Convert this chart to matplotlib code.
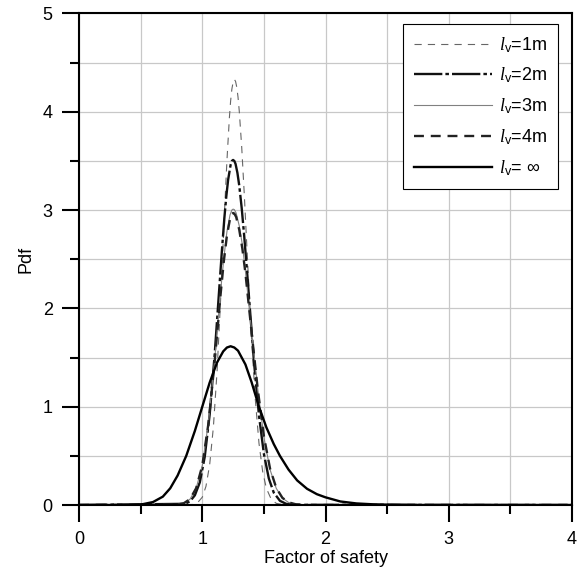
import matplotlib.pyplot as plt
from matplotlib.ticker import MultipleLocator

plt.rcParams['font.family'] = ['Liberation Sans', 'DejaVu Sans']
plt.rcParams['mathtext.fontset'] = 'custom'
plt.rcParams['mathtext.rm'] = 'Liberation Sans'
plt.rcParams['mathtext.it'] = 'Liberation Serif:italic'

# l_v = 1m
x1 = [0.0, 0.92, 0.96, 1.00, 1.03, 1.06, 1.09, 1.12, 1.15, 1.18, 1.20, 1.22, 1.23, 1.24, 1.25, 1.26,
      1.27, 1.28, 1.29, 1.30, 1.32, 1.34, 1.37, 1.40, 1.43, 1.46, 1.49, 1.52, 1.56, 1.60, 1.66, 1.72, 4.0]
y1 = [0.0, 0.005, 0.021, 0.079, 0.19, 0.41, 0.79, 1.36, 2.12, 2.97, 3.50, 3.94, 4.11, 4.23, 4.30, 4.33,
      4.31, 4.25, 4.15, 4.01, 3.64, 3.18, 2.42, 1.69, 1.08, 0.63, 0.34, 0.17, 0.057, 0.017, 0.003, 0.0, 0.0]
# l_v = 2m
x2 = [0.0, 0.86, 0.90, 0.94, 0.98, 1.02, 1.06, 1.10, 1.14, 1.16, 1.18, 1.195, 1.21, 1.23, 1.24, 1.25,
      1.26, 1.27, 1.285, 1.30, 1.32, 1.34, 1.36, 1.38, 1.42, 1.46, 1.50, 1.54, 1.58, 1.63, 1.68, 1.75, 4.0]
y2 = [0.0, 0.012, 0.037, 0.099, 0.23, 0.49, 0.92, 1.52, 2.24, 2.60, 2.93, 3.14, 3.31, 3.46, 3.50, 3.51,
      3.50, 3.47, 3.38, 3.25, 3.02, 2.74, 2.43, 2.10, 1.45, 0.91, 0.52, 0.27, 0.126, 0.043, 0.012, 0.002, 0.0]
# l_v = 3m
x3 = [0.0, 0.80, 0.85, 0.90, 0.95, 1.00, 1.05, 1.10, 1.15, 1.175, 1.20, 1.225, 1.24, 1.25, 1.26,
      1.275, 1.30, 1.325, 1.35, 1.40, 1.45, 1.50, 1.55, 1.60, 1.65, 1.70, 1.76, 1.85, 4.0]
y3 = [0.0, 0.005, 0.018, 0.058, 0.168, 0.40, 0.84, 1.47, 2.19, 2.51, 2.78, 2.95, 3.00, 3.01, 3.005,
      2.97, 2.84, 2.65, 2.38, 1.77, 1.18, 0.69, 0.36, 0.17, 0.07, 0.026, 0.007, 0.0, 0.0]
# l_v = 4m
x4 = [0.0, 0.80, 0.85, 0.90, 0.95, 1.00, 1.05, 1.10, 1.15, 1.175, 1.20, 1.225, 1.24, 1.25, 1.26,
      1.275, 1.30, 1.325, 1.35, 1.40, 1.45, 1.50, 1.55, 1.60, 1.65, 1.70, 1.76, 1.85, 4.0]
y4 = [0.0, 0.005, 0.018, 0.059, 0.17, 0.40, 0.83, 1.45, 2.16, 2.48, 2.74, 2.91, 2.96, 2.97, 2.965,
      2.93, 2.80, 2.61, 2.36, 1.76, 1.18, 0.70, 0.37, 0.175, 0.073, 0.027, 0.007, 0.0, 0.0]
# l_v = infinity
xi = [0.0, 0.40, 0.50, 0.60, 0.68, 0.74, 0.80, 0.87, 0.94, 1.00, 1.06, 1.12, 1.17, 1.20, 1.23,
      1.26, 1.29, 1.35, 1.40, 1.46, 1.52, 1.58, 1.63, 1.70, 1.77, 1.85, 1.93, 2.00, 2.12,
      2.25, 2.40, 2.60, 2.80, 4.0]
yi = [0.0, 0.0, 0.004, 0.030, 0.085, 0.17, 0.30, 0.50, 0.754, 1.00, 1.245, 1.45, 1.563, 1.602, 1.615,
      1.602, 1.57, 1.43, 1.25, 1.00, 0.79, 0.62, 0.50, 0.36, 0.25, 0.165, 0.11, 0.078, 0.036,
      0.016, 0.006, 0.0015, 0.0, 0.0]

labels = [r'$\mathit{l}_\mathrm{v}$=1m', r'$\mathit{l}_\mathrm{v}$=2m', r'$\mathit{l}_\mathrm{v}$=3m',
          r'$\mathit{l}_\mathrm{v}$=4m', r'$\mathit{l}_\mathrm{v}$= $\infty$']

fig = plt.figure(figsize=(5.84, 5.79), dpi=100)
ax = fig.add_axes([0.1353, 0.1278, 0.8442, 0.8489])

ax.plot(x1, y1, color='#666666', lw=0.8, linestyle=(0, (6.5, 5.5)), label=labels[0])
ax.plot(x2, y2, color='#111111', lw=1.7, linestyle=(0, (12, 1.3, 1.5, 1.3)), label=labels[1])
ax.plot(x3, y3, color='#808080', lw=0.8, label=labels[2])
ax.plot(x4, y4, color='#222222', lw=1.7, linestyle=(0, (4.2, 2.9)), label=labels[3])
ax.plot(xi, yi, color='black', lw=1.7, label=labels[4])

ax.set_xlim(0, 4)
ax.set_ylim(0, 5)
ax.xaxis.set_major_locator(MultipleLocator(1))
ax.xaxis.set_minor_locator(MultipleLocator(0.5))
ax.yaxis.set_major_locator(MultipleLocator(1))
ax.yaxis.set_minor_locator(MultipleLocator(0.5))
ax.grid(which='both', color='#c8c8c8', lw=0.9)
ax.set_axisbelow(True)
ax.tick_params(which='major', direction='out', length=12, width=1.5, labelsize=13, pad=7)
ax.tick_params(which='minor', direction='out', length=6.5, width=1.5)
for s in ax.spines.values():
    s.set_linewidth(1.5)
    s.set_color('black')

ax.set_xlabel('Factor of safety', fontsize=13, labelpad=1)
ax.set_ylabel('Pdf', fontsize=13, labelpad=6)

leg = ax.legend(loc='upper right', bbox_to_anchor=(0.9716, 0.9786), borderaxespad=0,
                fontsize=13, fancybox=False, framealpha=1, edgecolor='black',
                handlelength=4.3, handletextpad=0.4, labelspacing=0.62, borderpad=0.6)
leg.get_frame().set_linewidth(0.8)

plt.savefig('out.png', dpi=100)
